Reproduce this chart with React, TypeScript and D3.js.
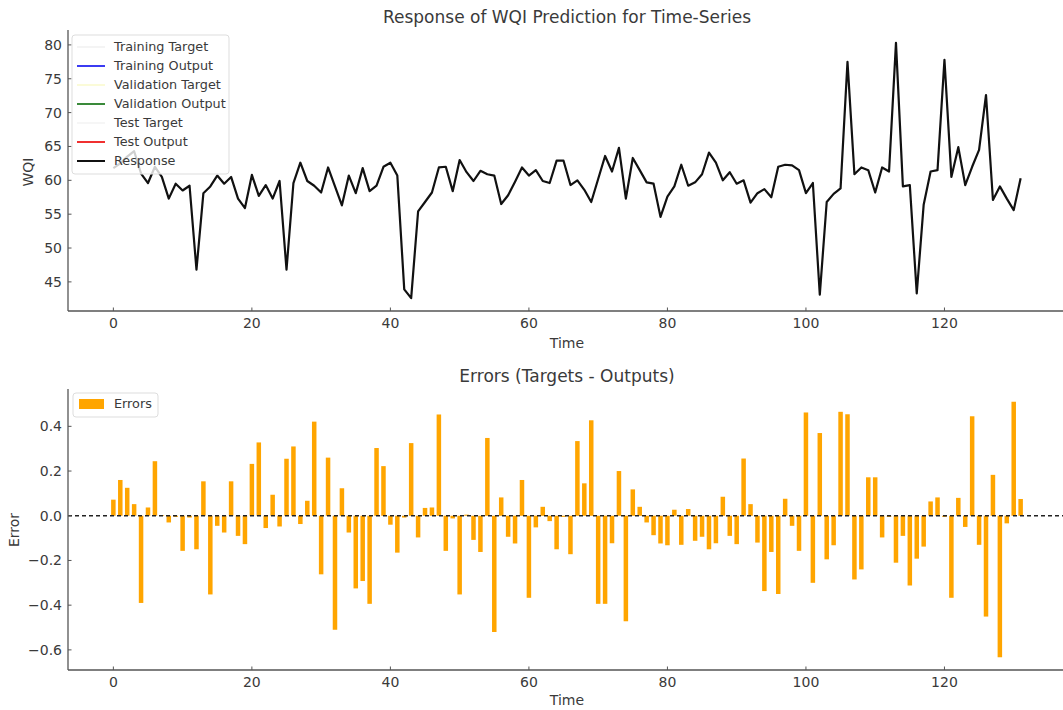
import * as d3 from "d3";

// WQI response (time index 0..131)
const wqi = [
  61.8, 62.5, 63.5, 64.3, 61.0, 59.6, 62.0, 60.5, 57.3, 59.5,
  58.5, 59.2, 46.8, 58.1, 59.1, 60.7, 59.5, 60.5, 57.3, 55.9,
  60.8, 57.7, 59.3, 57.3, 59.9, 46.8, 59.6, 62.6, 59.9, 59.2,
  58.2, 61.9, 59.1, 56.3, 60.7, 58.1, 61.8, 58.4, 59.2, 62.0,
  62.6, 60.7, 43.9, 42.6, 55.4, 56.8, 58.2, 61.9, 62.0, 58.4,
  63.0, 61.2, 59.9, 61.4, 60.9, 60.7, 56.5, 57.8, 59.8, 61.9,
  60.7, 61.5, 59.9, 59.6, 62.9, 62.9, 59.3, 60.0, 58.6, 56.8,
  60.2, 63.6, 61.3, 64.8, 57.3, 63.3, 61.5, 59.7, 59.5, 54.6,
  57.6, 59.1, 62.3, 59.2, 59.7, 60.9, 64.1, 62.6, 60.0, 61.2,
  59.5, 60.0, 56.7, 58.1, 58.7, 57.5, 62.0, 62.3, 62.2, 61.5,
  58.1, 59.6, 43.1, 56.8, 58.0, 58.8, 77.5, 60.9, 61.9, 61.5,
  58.2, 61.9, 61.3, 80.3, 59.1, 59.3, 43.3, 56.4, 61.3, 61.5,
  77.8, 60.5, 64.9, 59.3, 62.0, 64.5, 72.6, 57.1, 59.1, 57.3,
  55.6, 60.3,
];

// errors (targets - outputs)
const errors = [
  0.072, 0.16, 0.125, 0.052, -0.39, 0.037, 0.244, 0.003, -0.03, -0.005,
  -0.157, -0.008, -0.15, 0.154, -0.352, -0.045, -0.075, 0.154, -0.09, -0.127,
  0.232, 0.328, -0.055, 0.094, -0.048, 0.255, 0.31, -0.037, 0.067, 0.421,
  -0.262, 0.26, -0.51, 0.123, -0.075, -0.325, -0.292, -0.394, 0.303, 0.222,
  -0.04, -0.165, -0.008, 0.325, -0.097, 0.035, 0.037, 0.453, -0.157, -0.012,
  -0.352, 0.005, -0.108, -0.162, 0.348, -0.52, 0.082, -0.094, -0.124, 0.16,
  -0.367, -0.052, 0.04, -0.024, -0.15, -0.005, -0.172, 0.334, 0.145, 0.427,
  -0.394, -0.394, -0.123, 0.2, -0.472, 0.118, 0.04, -0.03, -0.087, -0.124,
  -0.132, 0.027, -0.13, 0.03, -0.112, -0.094, -0.15, -0.123, 0.085, -0.09,
  -0.127, 0.256, 0.052, -0.12, -0.337, -0.162, -0.35, 0.076, -0.045, -0.157,
  0.462, -0.3, 0.37, -0.195, -0.132, 0.465, 0.454, -0.285, -0.24, 0.172,
  0.172, -0.097, -0.005, -0.21, -0.09, -0.312, -0.192, -0.138, 0.064, 0.082,
  -0.005, -0.367, 0.08, -0.05, 0.445, -0.13, -0.451, 0.183, -0.633, -0.034,
  0.51, 0.075,
];

const xTicks = [0, 20, 40, 60, 80, 100, 120];
const wqiTicks = [45, 50, 55, 60, 65, 70, 75, 80];
const errTicks = [-0.6, -0.4, -0.2, 0.0, 0.2, 0.4];

const legendItems = [
  { label: "Training Target", color: "#f4f4f4" },
  { label: "Training Output", color: "#3b3bf2" },
  { label: "Validation Target", color: "#fbfbd8" },
  { label: "Validation Output", color: "#3a8a3a" },
  { label: "Test Target", color: "#f6f6f6" },
  { label: "Test Output", color: "#f03030" },
  { label: "Response", color: "#111" },
];

const FONT = "DejaVu Sans, sans-serif";
const TXT = "#3a3a3a";
const SPINE = "#555";

export default function App() {
  const width = 1063;
  const height = 710;
  const left = 68;

  const x = d3.scaleLinear().domain([-6.55, 137.55]).range([left, 1066]);
  const yTop = d3.scaleLinear().domain([40.7, 82.2]).range([311, 30]);
  const yBot = d3.scaleLinear().domain([-0.69, 0.567]).range([670, 389]);

  const line = d3
    .line<number>()
    .x((_, i) => x(i))
    .y((d) => yTop(d));

  const barW = x(0.65) - x(0);

  return (
    <svg
      width={width}
      height={height}
      style={{ position: "fixed", left: 0, top: 0, background: "#fff" }}
      fontFamily={FONT}
    >
      {/* ---- top chart ---- */}
      <text x={567} y={23} textAnchor="middle" fontSize={17} fill={TXT}>
        Response of WQI Prediction for Time-Series
      </text>
      <path d={line(wqi) || ""} fill="none" stroke="#111" strokeWidth={2.2} strokeLinejoin="round" />

      <line x1={left} x2={left} y1={yTop.range()[1]} y2={yTop.range()[0]} stroke={SPINE} strokeWidth={1.3} />
      <line x1={left} x2={width} y1={yTop.range()[0]} y2={yTop.range()[0]} stroke={SPINE} strokeWidth={1.3} />
      {wqiTicks.map((t) => (
        <g key={t}>
          <line x1={left} x2={left + 3.5} y1={yTop(t)} y2={yTop(t)} stroke={SPINE} />
          <text x={left - 6} y={yTop(t)} dy="0.35em" textAnchor="end" fontSize={14} fill={TXT}>
            {t}
          </text>
        </g>
      ))}
      {xTicks.map((t) => (
        <g key={t}>
          <line x1={x(t)} x2={x(t)} y1={yTop.range()[0]} y2={yTop.range()[0] - 3.5} stroke={SPINE} />
          <text x={x(t)} y={yTop.range()[0] + 17} textAnchor="middle" fontSize={14} fill={TXT}>
            {t}
          </text>
        </g>
      ))}
      <text x={567} y={348} textAnchor="middle" fontSize={14} fill={TXT}>
        Time
      </text>
      <text transform="translate(33,172) rotate(-90)" textAnchor="middle" fontSize={14} fill={TXT}>
        WQI
      </text>

      {/* legend */}
      <rect x={72} y={35} width={157} height={139} rx={3} fill="#fff" fillOpacity={0.8} stroke="#ddd" />
      {legendItems.map((d, i) => (
        <g key={d.label} transform={`translate(0,${47 + i * 19})`}>
          <line x1={77} x2={105} y1={0} y2={0} stroke={d.color} strokeWidth={2} />
          <text x={114} y={0} dy="0.35em" fontSize={12.8} fill={TXT}>
            {d.label}
          </text>
        </g>
      ))}

      {/* ---- bottom chart ---- */}
      <text x={567} y={382} textAnchor="middle" fontSize={17} fill={TXT}>
        Errors (Targets - Outputs)
      </text>
      {errors.map((e, i) => (
        <rect
          key={i}
          x={x(i) - barW / 2}
          y={yBot(Math.max(0, e))}
          width={barW}
          height={Math.abs(yBot(e) - yBot(0))}
          fill="#ffa500"
        />
      ))}
      <line
        x1={left}
        x2={width}
        y1={yBot(0)}
        y2={yBot(0)}
        stroke="#222"
        strokeWidth={1.3}
        strokeDasharray="4,3"
      />
      <line x1={left} x2={left} y1={yBot.range()[1]} y2={yBot.range()[0]} stroke={SPINE} strokeWidth={1.3} />
      <line x1={left} x2={width} y1={yBot.range()[0]} y2={yBot.range()[0]} stroke={SPINE} strokeWidth={1.3} />
      {errTicks.map((t) => (
        <g key={t}>
          <line x1={left} x2={left + 3.5} y1={yBot(t)} y2={yBot(t)} stroke={SPINE} />
          <text x={left - 6} y={yBot(t)} dy="0.35em" textAnchor="end" fontSize={14} fill={TXT}>
            {t === 0 ? "0.0" : t.toFixed(1).replace("-", "\u2212")}
          </text>
        </g>
      ))}
      {xTicks.map((t) => (
        <g key={t}>
          <line x1={x(t)} x2={x(t)} y1={yBot.range()[0]} y2={yBot.range()[0] - 3.5} stroke={SPINE} />
          <text x={x(t)} y={yBot.range()[0] + 17} textAnchor="middle" fontSize={14} fill={TXT}>
            {t}
          </text>
        </g>
      ))}
      <text x={567} y={705} textAnchor="middle" fontSize={14} fill={TXT}>
        Time
      </text>
      <text transform="translate(19,530) rotate(-90)" textAnchor="middle" fontSize={14} fill={TXT}>
        Error
      </text>

      <rect x={73} y={393} width={85} height={24} rx={3} fill="#fff" fillOpacity={0.8} stroke="#ddd" />
      <rect x={79} y={399} width={25} height={10} fill="#ffa500" />
      <text x={114} y={404} dy="0.35em" fontSize={12.8} fill={TXT}>
        Errors
      </text>
    </svg>
  );
}
